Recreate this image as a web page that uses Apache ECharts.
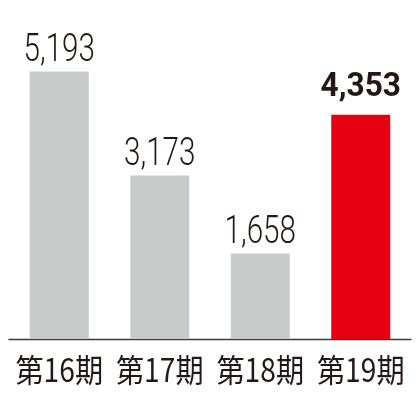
<!DOCTYPE html>
<html>
<head>
<meta charset="utf-8">
<script src="https://cdn.jsdelivr.net/npm/echarts@6/dist/echarts.min.js"></script>
<style>
  html, body { margin: 0; padding: 0; background: #fff; }
  #chart { width: 420px; height: 420px; }
</style>
</head>
<body>
<div id="chart"></div>
<script>
const categories = ['第16期', '第17期', '第18期', '第19期']
const values = [5193, 3173, 1658, 4353]
const highlightIndex = 3

const TEXT = '#231815'
const GREY = '#c9caca'
const RED = '#e60012'

const chart = echarts.init(document.getElementById('chart'))

// value labels and category labels drawn as text so they can be narrowed (condensed type in the original)
const renderLabels = (params, api) => {
  const idx = api.value(0)
  const v = api.value(1)
  const top = api.coord([idx, v])
  const base = api.coord([idx, 0])
  const hot = idx === highlightIndex
  return {
    type: 'group',
    children: [
      {
        type: 'text',
        x: top[0],
        y: top[1] - (hot ? 27 : 20),
        scaleX: hot ? 0.93 : 0.76,
        style: {
          text: v.toLocaleString('en-US'),
          fill: TEXT,
          fontFamily: 'Roboto, sans-serif',
          fontWeight: hot ? 'bold' : 300,
          fontSize: hot ? 34 : 39,
          align: 'center',
          verticalAlign: 'middle'
        }
      },
      {
        type: 'text',
        x: base[0],
        y: base[1] + 31,
        scaleX: 0.88,
        style: {
          text: categories[idx],
          fill: TEXT,
          fontFamily: '"Noto Sans CJK JP", sans-serif',
          fontSize: 32,
          align: 'center',
          verticalAlign: 'middle'
        }
      }
    ]
  }
}

chart.setOption({
  animation: false,
  grid: { left: 9, right: 9, top: 30, bottom: 81 },
  xAxis: {
    type: 'category',
    data: categories,
    axisLine: { lineStyle: { color: '#3e3a39', width: 1.3 } },
    axisTick: { show: false },
    axisLabel: { show: false }
  },
  yAxis: {
    type: 'value',
    min: 0,
    max: 6000,
    show: false,
    splitLine: { show: false }
  },
  series: [
    {
      type: 'bar',
      barWidth: 59,
      data: values.map((v, i) => ({
        value: v,
        itemStyle: { color: i === highlightIndex ? RED : GREY }
      }))
    },
    {
      type: 'custom',
      renderItem: renderLabels,
      data: values.map((v, i) => [i, v]),
      z: 5
    }
  ]
})
</script>
</body>
</html>
